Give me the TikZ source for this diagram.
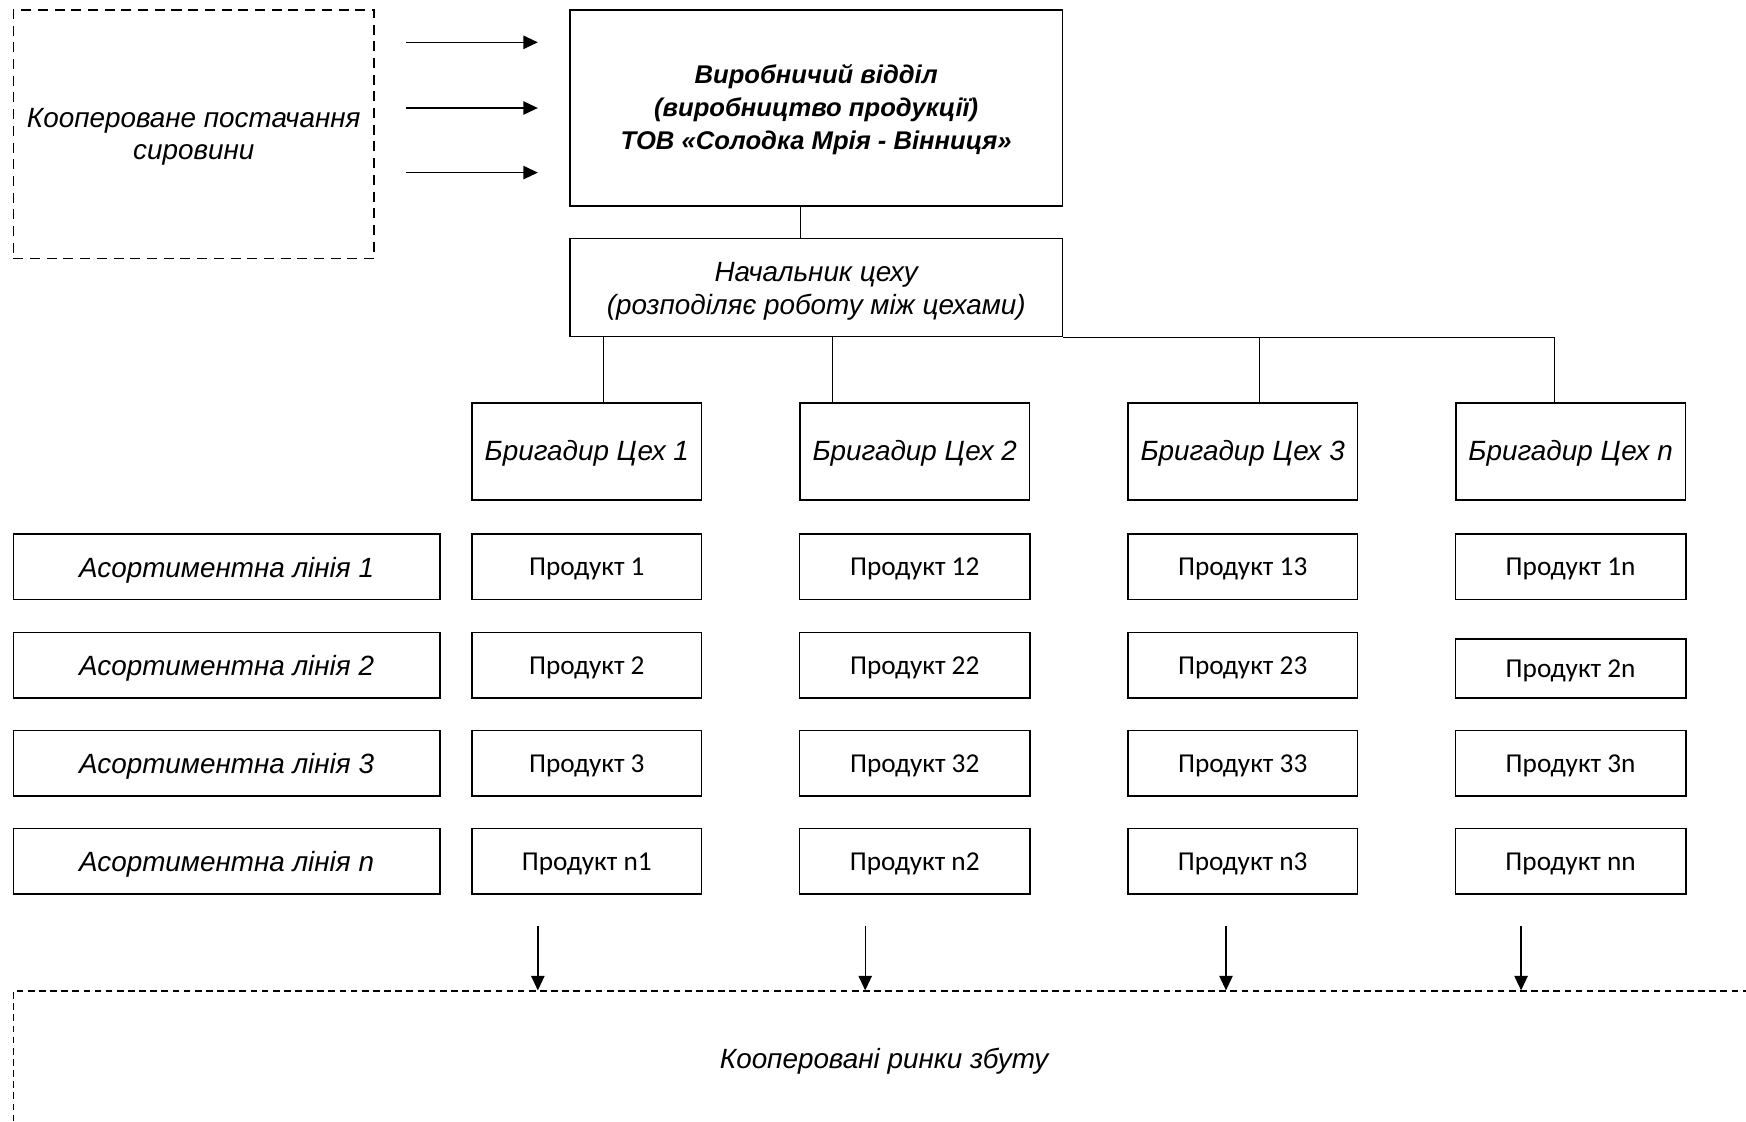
\documentclass[tikz,border=0pt]{standalone}
\usepackage{fontspec}
\setmainfont{Liberation Sans}
\newfontfamily\calib{Carlito}
\usetikzlibrary{arrows.meta,calc}
\newcommand\tstrut[1]{\rule{0pt}{#1pt}}
\begin{document}
\begin{tikzpicture}[x=1pt,y=-1pt,
  box/.style={draw, line width=1.3pt, inner sep=0pt, align=center},
  ital/.style={font=\fontsize{25}{29.5}\selectfont\itshape},
  boldital/.style={font=\fontsize{23}{30}\selectfont\bfseries\itshape},
  prod/.style={box, minimum width=206pt, minimum height=59pt, font=\calib\fontsize{24.5}{29}\selectfont},
  asort/.style={box, ital, minimum width=383pt, minimum height=59pt},
  brig/.style={box, ital, minimum width=206pt, minimum height=87pt},
  conn/.style={line width=0.9pt},
  arr/.style={line width=1.2pt, -{Triangle[length=13pt,width=12pt]}},
  dashbox/.style={draw, line width=1.2pt, dash pattern=on 9pt off 6pt, inner sep=0pt, align=center},
]
\useasboundingbox[fill=white] (0,0) rectangle (1568,1007);

% top-left supply box
\node[dashbox, ital, minimum width=324pt, minimum height=223pt] (supply) at (174,120.5)
  {\tstrut{22}Коопероване постачання\\сировини};

% main department
\node[box, boldital, minimum width=442pt, minimum height=176pt] (main) at (733,97)
  {\tstrut{20}Виробничий відділ\\(виробництво продукції)\\ТОВ «Солодка Мрія - Вінниця»};

% chief
\node[box, ital, minimum width=442pt, minimum height=88pt] (chief) at (733,258)
  {\tstrut{24.5}Начальник цеху\\(розподіляє роботу між цехами)};

% input arrows
\coordinate (s1) at (365,38);  \coordinate (t1) at (483,38);
\coordinate (s2) at (365,97);  \coordinate (t2) at (483,97);
\coordinate (s3) at (365,155); \coordinate (t3) at (483,155);
\draw[arr] (s1) -- (t1);
\draw[arr] (s2) -- (t2);
\draw[arr] (s3) -- (t3);

% brigadiers
\node[brig] (b1) at (527,405.5)    {\tstrut{22}Бригадир Цех 1};
\node[brig] (b2) at (821.5,405.5)  {\tstrut{22}Бригадир Цех 2};
\node[brig] (b3) at (1116,405.5)   {\tstrut{22}Бригадир Цех 3};
\node[brig] (b4) at (1410.5,405.5) {\tstrut{22}Бригадир Цех \textit{n}};

% tree connectors
\draw[conn] ([xshift=-14pt]main.south) -- ([xshift=-14pt]main.south |- chief.north);
\draw[conn] (chief.south east) -- ([xshift=-14.5pt]b4.north |- chief.south);
\draw[conn] ([xshift=15pt]b1.north) -- ([xshift=15pt]b1.north |- chief.south);
\draw[conn] ([xshift=-73.5pt]b2.north) -- ([xshift=-73.5pt]b2.north |- chief.south);
\draw[conn] ([xshift=15pt]b3.north) -- ([xshift=15pt]b3.north |- chief.south);
\draw[conn] ([xshift=-14.5pt]b4.north) -- ([xshift=-14.5pt]b4.north |- chief.south);

% assortment lines
\node[asort] (a1) at (203.5,509)   {\tstrut{24}Асортиментна лінія 1};
\node[asort] (a2) at (203.5,597.5) {\tstrut{24}Асортиментна лінія 2};
\node[asort] (a3) at (203.5,685.5) {\tstrut{24}Асортиментна лінія 3};
\node[asort] (a4) at (203.5,773.5) {\tstrut{24}Асортиментна лінія \textit{n}};

% products column 1
\node[prod] (p11) at (527,509)   {\tstrut{20}Продукт 1};
\node[prod] (p12) at (527,597.5) {\tstrut{20}Продукт 2};
\node[prod] (p13) at (527,685.5) {\tstrut{20}Продукт 3};
\node[prod] (p14) at (527,773.5) {\tstrut{20}Продукт n1};
% column 2
\node[prod, minimum width=207pt] (p21) at (821.5,509)   {\tstrut{20}Продукт 12};
\node[prod, minimum width=207pt] (p22) at (821.5,597.5) {\tstrut{20}Продукт 22};
\node[prod, minimum width=207pt] (p23) at (821.5,685.5) {\tstrut{20}Продукт 32};
\node[prod, minimum width=207pt] (p24) at (821.5,773.5) {\tstrut{20}Продукт n2};
% column 3
\node[prod] (p31) at (1116,509)   {\tstrut{20}Продукт 13};
\node[prod] (p32) at (1116,597.5) {\tstrut{20}Продукт 23};
\node[prod] (p33) at (1116,685.5) {\tstrut{20}Продукт 33};
\node[prod] (p34) at (1116,773.5) {\tstrut{20}Продукт n3};
% column n
\node[prod, minimum width=207pt] (p41) at (1410.5,509)   {\tstrut{20}Продукт 1n};
\node[prod, minimum width=207pt, minimum height=53pt] (p42) at (1410.5,600.5) {\tstrut{20}Продукт 2n};
\node[prod, minimum width=207pt] (p43) at (1410.5,685.5) {\tstrut{20}Продукт 3n};
\node[prod, minimum width=207pt] (p44) at (1410.5,773.5) {\tstrut{20}Продукт nn};

% markets box (extends beyond the page)
\node[draw, line width=1.2pt, dash pattern=on 6pt off 4pt, inner sep=0pt, ital,
      minimum width=1564pt, minimum height=121pt] (market) at (794,950.5)
  {\tstrut{22.5}Кооперовані ринки збуту};

% output arrows
\coordinate (d1) at (483,832);
\coordinate (d2) at (777,832);
\coordinate (d3) at (1101,832);
\coordinate (d4) at (1366,832);
\draw[arr] (d1) -- (d1 |- market.north);
\draw[arr] (d2) -- (d2 |- market.north);
\draw[arr] (d3) -- (d3 |- market.north);
\draw[arr] (d4) -- (d4 |- market.north);
\end{tikzpicture}
\end{document}
